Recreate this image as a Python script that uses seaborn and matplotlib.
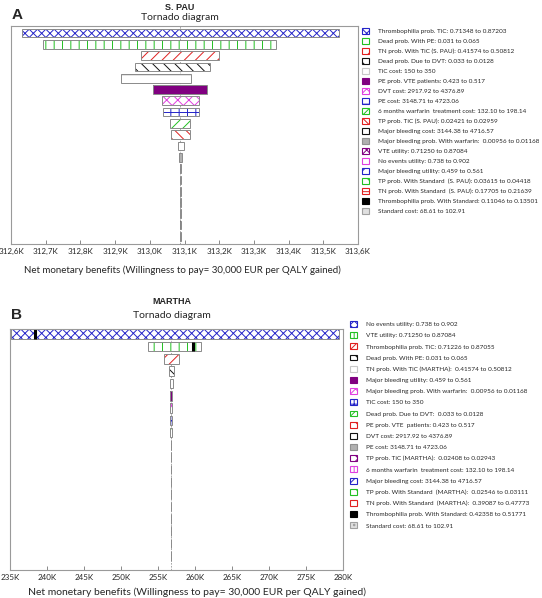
import numpy as np
import matplotlib
matplotlib.use("Agg")
import matplotlib.pyplot as plt
from matplotlib.patches import Patch
from matplotlib.ticker import FuncFormatter, MultipleLocator
import seaborn as sns

# data, panel A (S. PAU), values in thousands
labels_a = [
    "Thrombophilia prob. TiC: 0.71348 to 0.87203",
    "Dead prob. With PE: 0.031 to 0.065",
    "TN prob. With TiC (S. PAU): 0.41574 to 0.50812",
    "Dead prob. Due to DVT: 0.033 to 0.0128",
    "TiC cost: 150 to 350",
    "PE prob. VTE patients: 0.423 to 0.517",
    "DVT cost: 2917.92 to 4376.89",
    "PE cost: 3148.71 to 4723.06",
    "6 months warfarin  treatment cost: 132.10 to 198.14",
    "TP prob. TiC (S. PAU): 0.02421 to 0.02959",
    "Major bleeding cost: 3144.38 to 4716.57",
    "Major bleeding prob. With warfarin:  0.00956 to 0.01168",
    "VTE utility: 0.71250 to 0.87084",
    "No events utility: 0.738 to 0.902",
    "Major bleeding utility: 0.459 to 0.561",
    "TP prob. With Standard  (S. PAU): 0.03615 to 0.04418",
    "TN prob. With Standard  (S. PAU): 0.17705 to 0.21639",
    "Thrombophilia prob. With Standard: 0.11046 to 0.13501",
    "Standard cost: 68.61 to 102.91",
]
low_a = [312.633, 312.693, 312.976, 312.957, 312.916, 313.010, 313.036, 313.038,
         313.059, 313.061, 313.080, 313.084, 313.086, 313.087, 313.0875, 313.0875,
         313.0875, 313.0875, 313.0875]
high_a = [313.544, 313.365, 313.200, 313.173, 313.119, 313.166, 313.141, 313.141,
          313.115, 313.115, 313.098, 313.093, 313.091, 313.090, 313.0890, 313.0890,
          313.0890, 313.0890, 313.0890]
base_a = 313.088

# data, panel B (MARTHA), values in thousands
labels_b = [
    "No events utility: 0.738 to 0.902",
    "VTE utility: 0.71250 to 0.87084",
    "Thrombophilia prob. TiC: 0.71226 to 0.87055",
    "Dead prob. With PE: 0.031 to 0.065",
    "TN prob. With TiC (MARTHA):  0.41574 to 0.50812",
    "Major bleeding utility: 0.459 to 0.561",
    "Major bleeding prob. With warfarin:  0.00956 to 0.01168",
    "TiC cost: 150 to 350",
    "Dead prob. Due to DVT:  0.033 to 0.0128",
    "PE prob. VTE  patients: 0.423 to 0.517",
    "DVT cost: 2917.92 to 4376.89",
    "PE cost: 3148.71 to 4723.06",
    "TP prob. TiC (MARTHA):  0.02408 to 0.02943",
    "6 months warfarin  treatment cost: 132.10 to 198.14",
    "Major bleeding cost: 3144.38 to 4716.57",
    "TP prob. With Standard  (MARTHA):  0.02546 to 0.03111",
    "TN prob. With Standard  (MARTHA):  0.39087 to 0.47773",
    "Thrombophilia prob. With Standard: 0.42358 to 0.51771",
    "Standard cost: 68.61 to 102.91",
]
low_b = [235.1, 253.6, 255.85, 256.5, 256.6, 256.65, 256.65, 256.68, 256.68,
         256.72, 256.72, 256.72, 256.72, 256.72, 256.72, 256.72, 256.72, 256.72, 256.72]
high_b = [279.5, 260.8, 257.8, 257.1, 257.0, 256.95, 256.95, 256.92, 256.92,
          256.82, 256.82, 256.82, 256.82, 256.82, 256.82, 256.82, 256.82, 256.82, 256.82]
marks_b = [238.4, 259.7]
base_b = 256.77

# bar styles by position: (face, hatch colour, hatch)
styles = [
    ("white", "#2424c8", "xxxx"),
    ("white", "#22c022", "||"),
    ("white", "#e02020", "///"),
    ("white", "#111111", "\\\\\\"),
    ("white", "#c8c8c8", "-"),
    ("#800080", "#800080", None),
    ("white", "#e040e0", "xxx"),
    ("white", "#2424c8", "++"),
    ("white", "#22c022", "///"),
    ("white", "#e02020", "\\\\\\"),
    ("white", "#111111", "-"),
    ("#b0b0b0", "#909090", None),
    ("white", "#800080", "xx"),
    ("white", "#e040e0", "||"),
    ("white", "#2424c8", "///"),
    ("white", "#22c022", "\\\\\\"),
    ("white", "#e02020", "-"),
    ("#000000", "#000000", None),
    ("#e0e0e0", "#a0a0a0", ".."),
]

sns.set_theme(style="white")
plt.rcParams["font.family"] = ["Lato", "DejaVu Sans"]
plt.rcParams["hatch.linewidth"] = 0.7
NARROW = ["Liberation Sans Narrow", "Lato", "DejaVu Sans"]

fig = plt.figure(figsize=(5.42, 5.98), dpi=100)
W, H = 542.0, 598.0


def px_axes(x0, y0, x1, y1):
    return fig.add_axes([x0 / W, 1 - y1 / H, (x1 - x0) / W, (y1 - y0) / H])


def draw_panel(ax, low, high, base, ylim, barh_frac):
    n = len(low)
    ys = np.arange(n)
    for i in range(n):
        face, hc, hatch = styles[i % len(styles)]
        ax.barh(ys[i], high[i] - low[i], left=low[i], height=barh_frac,
                color=face, edgecolor=hc, hatch=hatch, linewidth=0)
        ax.barh(ys[i], high[i] - low[i], left=low[i], height=barh_frac,
                fill=False, edgecolor="#8a8a8a", linewidth=0.7)
    ax.axvline(base, color="#9a9a9a", lw=0.6, ls=(0, (2, 1.5)), zorder=0)
    ax.set_ylim(*ylim)
    ax.set_yticks([])
    for s in ax.spines.values():
        s.set_color("#9a9a9a")
        s.set_linewidth(0.8)
    ax.tick_params(axis="x", direction="in", length=3, width=0.6, color="#777777",
                   labelsize=5.8, pad=3, bottom=True)


def legend_panel(ax, labels, x, y, spacing, fs):
    handles = []
    for i in range(len(labels)):
        face, hc, hatch = styles[i % len(styles)]
        handles.append(Patch(facecolor=face, edgecolor=hc, hatch=hatch, linewidth=0.8))
    ax.legend(handles, labels, loc="upper left", bbox_to_anchor=(x / W, 1 - y / H),
              bbox_transform=fig.transFigure, frameon=False,
              prop={"family": NARROW, "size": fs},
              handlelength=1.05, handleheight=1.05, handletextpad=1.5,
              labelspacing=spacing, borderaxespad=0, borderpad=0)


# panel A
ax_a = px_axes(11, 26, 358, 244)
draw_panel(ax_a, low_a, high_a, base_a, (18.67, -0.62), 0.77)
ax_a.set_xlim(312.6, 313.6)
ax_a.xaxis.set_major_locator(MultipleLocator(0.1))
ax_a.xaxis.set_major_formatter(FuncFormatter(lambda v, p: f"{v:.1f}K".replace(".", ",")))
legend_panel(ax_a, labels_a, 362, 28, 0.6, 4.6)

fig.text(180 / W, 1 - 7 / H, "S. PAU", ha="center", va="center", fontsize=6.5,
         fontweight="bold", family="Liberation Sans")
fig.text(180 / W, 1 - 17 / H, "Tornado diagram", ha="center", va="center", fontsize=7.5)
fig.text(17 / W, 1 - 15 / H, "A", ha="center", va="center", fontsize=11,
         fontweight="bold", family="Liberation Sans")
fig.text(182 / W, 1 - 270 / H, "Net monetary benefits (Willingness to pay= 30,000 EUR per QALY gained)",
         ha="center", va="center", fontsize=7)

# panel B
ax_b = px_axes(10, 329, 343, 570)
draw_panel(ax_b, low_b, high_b, base_b, (19.16, -0.42), 0.78)
for i, m in enumerate(marks_b):
    ax_b.plot([m, m], [i - 0.39, i + 0.39], color="black", lw=2.2, solid_capstyle="butt")
ax_b.set_xlim(235, 280)
ax_b.xaxis.set_major_locator(MultipleLocator(5))
ax_b.xaxis.set_major_formatter(FuncFormatter(lambda v, p: f"{v:.0f}K"))
legend_panel(ax_b, labels_b, 350, 321, 0.79, 4.6)

fig.text(172 / W, 1 - 302 / H, "MARTHA", ha="center", va="center", fontsize=6.5,
         fontweight="bold", family="Liberation Sans")
fig.text(172 / W, 1 - 315 / H, "Tornado diagram", ha="center", va="center", fontsize=7.5)
fig.text(17 / W, 1 - 315 / H, "B", ha="center", va="center", fontsize=11,
         fontweight="bold", family="Liberation Sans")
fig.text(197 / W, 1 - 592 / H, "Net monetary benefits (Willingness to pay= 30,000 EUR per QALY gained)",
         ha="center", va="center", fontsize=7.5)

fig.savefig("out.png", dpi=100)
